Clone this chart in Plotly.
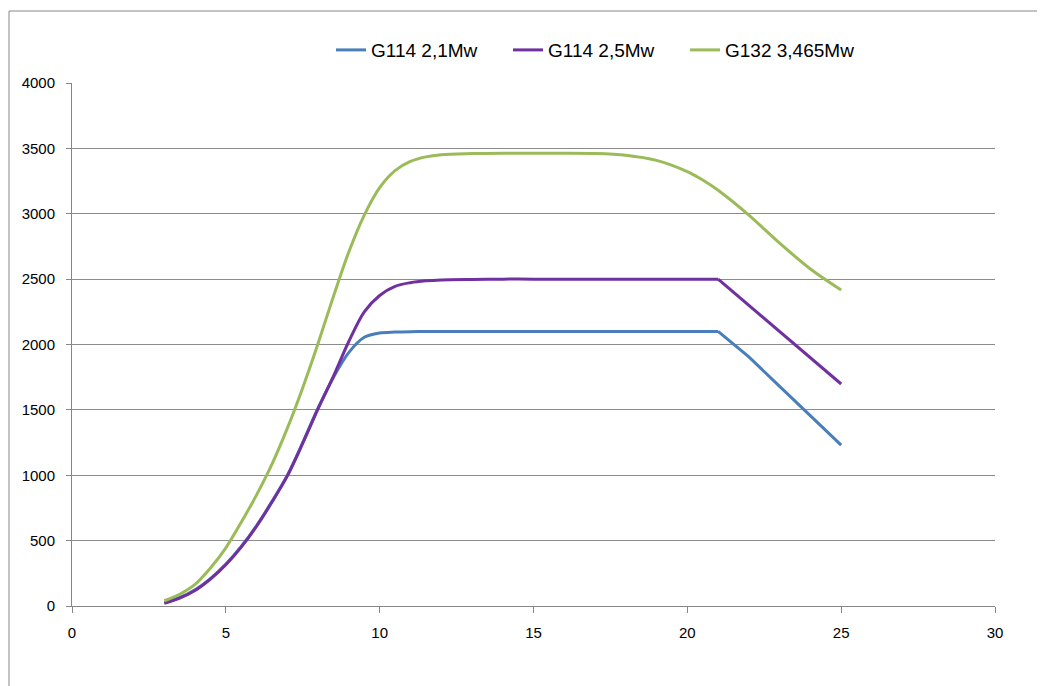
import plotly.graph_objects as go

wind_speed = [3, 3.5, 4, 4.5, 5, 5.5, 6, 6.5, 7, 7.5, 8, 8.5, 9, 9.5, 10, 10.5, 11, 11.5, 12,
              13, 14, 15, 16, 17, 18, 19, 20, 20.5, 21, 22, 23, 24, 25]
g114_21 = [25, 65, 125, 210, 320, 455, 615, 800, 1000, 1250, 1515, 1750, 1940, 2055, 2088, 2095, 2098, 2099, 2100,
           2100, 2100, 2100, 2100, 2100, 2100, 2100, 2100, 2100, 2100, 1905, 1680, 1455, 1230]
g114_25 = [20, 60, 118, 205, 315, 450, 610, 795, 995, 1245, 1510, 1758, 2025, 2250, 2375, 2445, 2473, 2487, 2494,
           2498, 2500, 2500, 2500, 2500, 2500, 2500, 2500, 2500, 2500, 2300, 2100, 1900, 1698]
g132_3465 = [40, 90, 165, 290, 445, 640, 850, 1085, 1360, 1670, 2010, 2370, 2710, 2990, 3200, 3330, 3400, 3435, 3452,
             3460, 3463, 3463, 3463, 3461, 3448, 3408, 3322, 3258, 3180, 2990, 2775, 2578, 2417]

series_names = ["G114 2,1Mw", "G114 2,5Mw", "G132 3,465Mw"]
series_values = [g114_21, g114_25, g132_3465]
series_colors = ["#4A7EBB", "#7030A0", "#9BBB59"]
# the two G114 curves run straight (no smoothing) after the cut-back point at 21 m/s
straight_from = [21, 21, None]

x_ticks = [0, 5, 10, 15, 20, 25, 30]
y_ticks = [0, 500, 1000, 1500, 2000, 2500, 3000, 3500, 4000]

fig = go.Figure()
for name, vals, col, cut in zip(series_names, series_values, series_colors, straight_from):
    if cut is None:
        fig.add_trace(go.Scatter(
            x=wind_speed, y=vals, name=name, mode="lines", legendgroup=name,
            line=dict(color=col, width=3, shape="spline", smoothing=0.9),
        ))
    else:
        k = wind_speed.index(cut)
        fig.add_trace(go.Scatter(
            x=wind_speed[:k + 1], y=vals[:k + 1], name=name, mode="lines", legendgroup=name,
            line=dict(color=col, width=3, shape="spline", smoothing=0.9),
        ))
        fig.add_trace(go.Scatter(
            x=wind_speed[k:], y=vals[k:], name=name, mode="lines", legendgroup=name,
            showlegend=False, line=dict(color=col, width=3),
        ))

fig.update_layout(
    width=1045, height=686,
    margin=dict(l=64, r=58, t=75, b=88),
    paper_bgcolor="white", plot_bgcolor="white",
    font=dict(family="Liberation Sans, Arial, sans-serif", size=14, color="#000000"),
    showlegend=True,
    legend=dict(orientation="h", x=(331 - 72) / 923, xanchor="left", y=1.063, yanchor="middle",
                font=dict(size=19), entrywidth=132, entrywidthmode="pixels",
                tracegroupgap=0, bgcolor="rgba(0,0,0,0)"),
    xaxis=dict(range=[0, 30], tickvals=x_ticks, showgrid=False, zeroline=False,
               showline=True, linecolor="#868686", linewidth=1,
               ticks="outside", ticklen=6, tickcolor="#868686",
               ticklabelstandoff=7, tickfont=dict(size=15)),
    yaxis=dict(range=[0, 4000], tickvals=y_ticks, showgrid=True, gridcolor="#8C8C8C",
               gridwidth=1, zeroline=False, showline=True, linecolor="#868686",
               linewidth=1, ticks="outside", ticklen=5, tickcolor="#868686",
               ticklabelstandoff=8, tickfont=dict(size=15)),
    shapes=[dict(type="rect", xref="paper", yref="paper",
                 x0=(9 - 72) / 923, x1=1.2, y0=-0.3, y1=(606 - 11) / 523,
                 line=dict(color="#878787", width=1), layer="below")],
)

fig.write_html("out.html")
